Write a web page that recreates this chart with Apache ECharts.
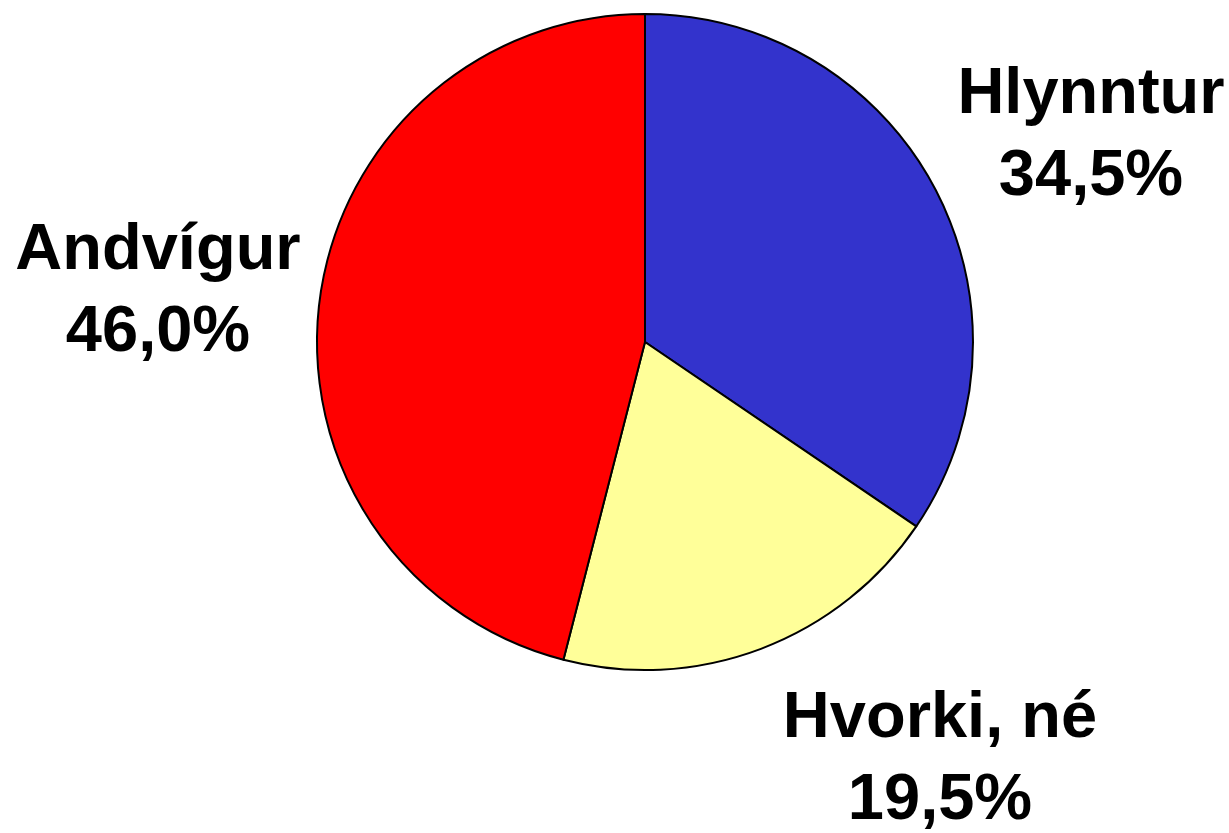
<!DOCTYPE html>
<html>
<head>
<meta charset="utf-8">
<script src="https://cdn.jsdelivr.net/npm/echarts@6/dist/echarts.min.js"></script>
<style>
html, body { margin: 0; padding: 0; background: #fff; }
#myChart { width: 1229px; height: 833px; }
</style>
</head>
<body>
<div id="myChart"></div>
<script>
// slice data, clockwise from 12 o'clock
var categories = ['Hlynntur', 'Hvorki, né', 'Andvígur'];
var shares = [34.5, 19.5, 46.0];
var sliceColors = ['#3333CC', '#FFFF99', '#FF0000'];

// where each label block sits (centre of the two lines)
var labelPos = [[1091, 136], [940, 760], [158, 292]];

var pieData = categories.map(function (name, i) {
  return { name: name, value: shares[i], itemStyle: { color: sliceColors[i] } };
});

var option = {
  animation: false,
  backgroundColor: '#fff',
  series: [
    {
      type: 'pie',
      center: [645, 342],
      radius: 328,
      startAngle: 90,
      clockwise: true,
      data: pieData,
      itemStyle: { borderColor: '#000', borderWidth: 2 },
      labelLine: { show: false },
      label: {
        show: true,
        position: 'outside',
        overflow: 'none',
        fontFamily: '"Liberation Sans", Arial, sans-serif',
        fontWeight: 'bold',
        fontSize: 65,
        lineHeight: 82,
        color: '#000',
        align: 'center',
        formatter: function (p) {
          return p.name + '\n' + p.value.toFixed(1).replace('.', ',') + '%';
        }
      },
      labelLayout: function (p) {
        var pos = labelPos[p.dataIndex];
        return { x: pos[0], y: pos[1], align: 'center', verticalAlign: 'middle', width: 400 };
      },
      emphasis: { disabled: true }
    }
  ]
};

var myChart = echarts.init(document.getElementById('myChart'));
myChart.setOption(option);
</script>
</body>
</html>
